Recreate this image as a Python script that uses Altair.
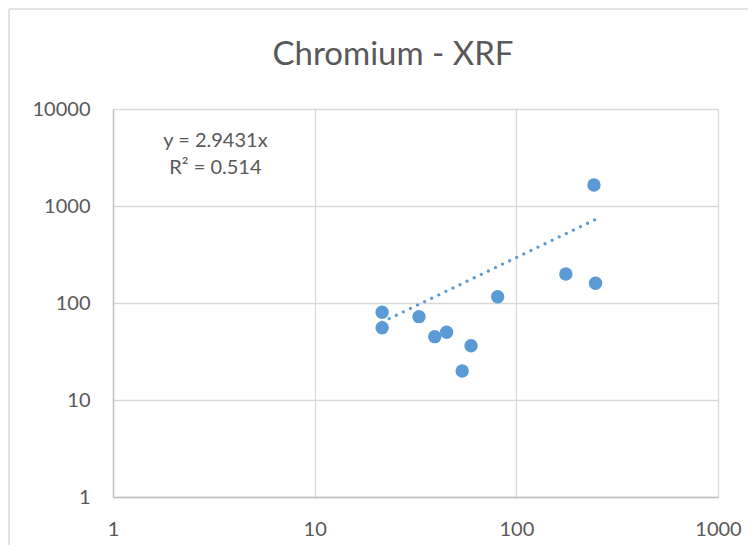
import altair as alt
import pandas as pd

# Data (log-log scatter)
x_vals = [21.6, 21.6, 32.9, 39.4, 45.1, 59.6, 53.9, 80.8, 176, 247, 242.6]
y_vals = [80.2, 55.6, 72.3, 45.0, 49.9, 36.3, 19.9, 116, 199, 160, 1645]

slope = 2.9431
r2 = 0.514
trend_x = [min(x_vals), max(x_vals)]

x_ticks = [1, 10, 100, 1000]
y_ticks = [1, 10, 100, 1000, 10000]

title_text = ["Chromium - XRF"]
eq_lines = ["y = 2.9431x", "R² = 0.514"]
eq_x = [3.22, 3.22]
eq_y = [4677, 2494]

FONT = "Lato"
GREY = "#595959"
BLUE = "#5B9BD5"

pts = pd.DataFrame({"x": x_vals, "y": y_vals})
trend = pd.DataFrame({"x": trend_x})
eq = pd.DataFrame({"label": eq_lines, "x": eq_x, "y": eq_y})
ttl = pd.DataFrame({"t": title_text})

xscale = alt.Scale(type="log", domain=[1, 1000], nice=False)
yscale = alt.Scale(type="log", domain=[1, 10000], nice=False)

xaxis = alt.Axis(values=x_ticks, format="d", title=None, grid=True,
                 gridColor="#d9d9d9", gridWidth=1.3, domainColor="#bfbfbf",
                 domainWidth=1.3, ticks=False, labelFont=FONT, labelFontSize=20,
                 labelColor=GREY, labelPadding=22, labelFlush=False)
yaxis = alt.Axis(values=y_ticks, format="d", title=None, grid=True,
                 gridColor="#d9d9d9", gridWidth=1.3, domainColor="#bfbfbf",
                 domainWidth=1.3, ticks=False, labelFont=FONT, labelFontSize=20,
                 labelColor=GREY, labelPadding=23, labelFlush=False)

points = alt.Chart(pts).mark_circle(size=180, opacity=1, color=BLUE).encode(
    x=alt.X("x:Q", scale=xscale, axis=xaxis),
    y=alt.Y("y:Q", scale=yscale, axis=yaxis),
)

line = alt.Chart(trend).transform_calculate(
    y=f"{slope} * datum.x"
).mark_line(color=BLUE, strokeWidth=3.2, strokeCap="round",
            strokeDash=[0.01, 7.85]).encode(
    x=alt.X("x:Q", scale=xscale),
    y=alt.Y("y:Q", scale=yscale),
)

text = alt.Chart(eq).mark_text(font=FONT, fontSize=20, color=GREY,
                               align="center", baseline="middle").encode(
    x=alt.X("x:Q", scale=xscale),
    y=alt.Y("y:Q", scale=yscale),
    text="label:N",
)

title = alt.Chart(ttl).mark_text(font=FONT, fontSize=33, color=GREY,
                                 align="center", baseline="alphabetic").encode(
    x=alt.value(280), y=alt.value(-44), text="t:N")

# outer chart-area border (Excel style)
border_left = alt.Chart(ttl).mark_rule(color="#d9d9d9", strokeWidth=1.5).encode(
    x=alt.value(-104), y=alt.value(-100), y2=alt.value(470))
border_top = alt.Chart(ttl).mark_rule(color="#d9d9d9", strokeWidth=1.5).encode(
    x=alt.value(-104), x2=alt.value(660), y=alt.value(-100))

chart = alt.layer(border_left, border_top, line, points, text, title).properties(
    width=605, height=388,
    autosize=alt.AutoSizeParams(type="none"),
    padding={"left": 105, "top": 101, "right": 30, "bottom": 48},
).configure_view(stroke=None)

chart.save("out.html", embed_options={"renderer": "svg", "actions": False})
